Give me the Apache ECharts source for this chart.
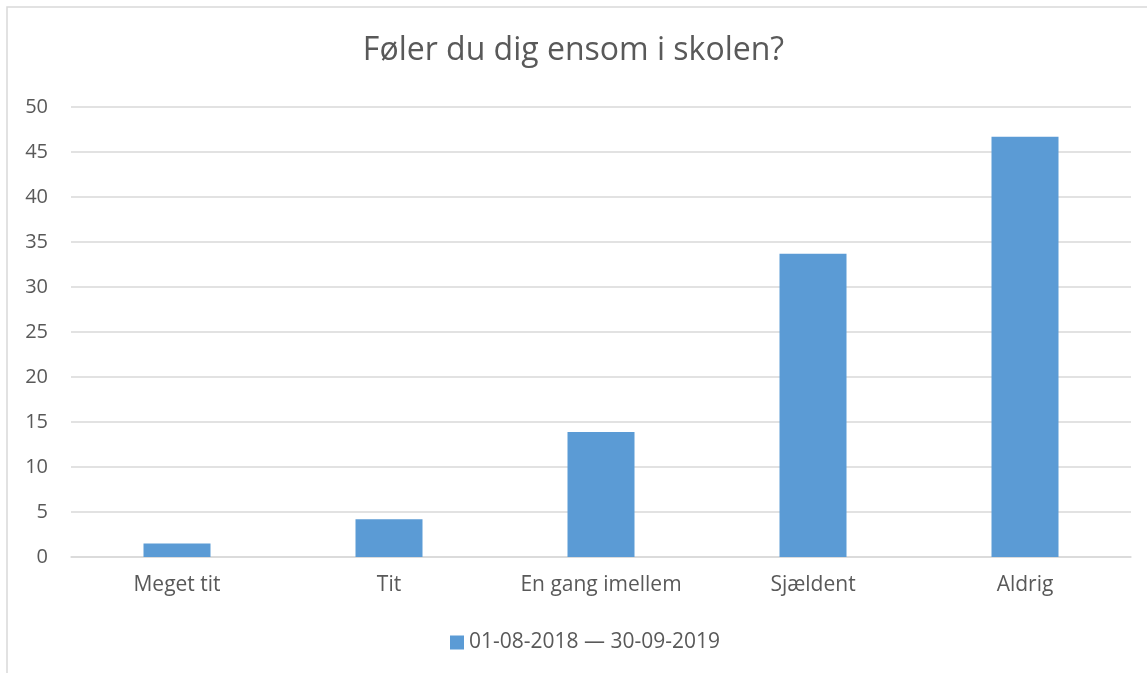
<!DOCTYPE html>
<html>
<head>
<meta charset="utf-8">
<script src="https://cdn.jsdelivr.net/npm/echarts@6/dist/echarts.min.js"></script>
<style>
  html, body { margin: 0; padding: 0; background: #fff; }
  #chart { width: 1147px; height: 673px; }
</style>
</head>
<body>
<div id="chart"></div>
<script>
// Survey answers: "Føler du dig ensom i skolen?" (percent of respondents)
const categories = ['Meget tit', 'Tit', 'En gang imellem', 'Sjældent', 'Aldrig'];
const values = [1.5, 4.2, 13.9, 33.7, 46.7];
const seriesName = '01-08-2018 \u2014 30-09-2019';
const yTicks = { min: 0, max: 50, interval: 5 };

const textColor = '#595959';
const fontFamily = 'Open Sans, Noto Sans, sans-serif';

const chart = echarts.init(document.getElementById('chart'), null, { renderer: 'canvas' });
chart.setOption({
  animation: false,
  backgroundColor: '#fff',
  graphic: [{
    type: 'rect',
    shape: { x: 7, y: 7, width: 1150, height: 680 },
    style: { fill: 'none', stroke: '#d9d9d9', lineWidth: 1.5 },
    silent: true,
    z: -1
  }],
  title: {
    text: 'Føler du dig ensom i skolen?',
    left: 'center',
    top: 30,
    textStyle: { color: textColor, fontSize: 32, fontWeight: 'normal', fontFamily }
  },
  grid: { left: 71, right: 16, top: 107, bottom: 116, containLabel: false },
  legend: {
    bottom: 15,
    left: 445,
    itemWidth: 14,
    itemHeight: 14,
    itemGap: 10,
    icon: 'rect',
    textStyle: { color: textColor, fontSize: 21, fontFamily }
  },
  xAxis: {
    type: 'category',
    data: categories,
    axisLine: { show: true, lineStyle: { color: '#d9d9d9', width: 1.5 } },
    axisTick: { show: false },
    axisLabel: { color: textColor, fontSize: 21, fontFamily, margin: 18 }
  },
  yAxis: {
    type: 'value',
    min: yTicks.min,
    max: yTicks.max,
    interval: yTicks.interval,
    axisLine: { show: false },
    axisTick: { show: false },
    splitLine: { lineStyle: { color: '#d9d9d9', width: 1.5 } },
    axisLabel: { color: textColor, fontSize: 20, fontFamily, margin: 23 }
  },
  series: [{
    name: seriesName,
    type: 'bar',
    data: values,
    barWidth: 67,
    itemStyle: { color: '#5b9bd5' }
  }]
});
</script>
</body>
</html>
